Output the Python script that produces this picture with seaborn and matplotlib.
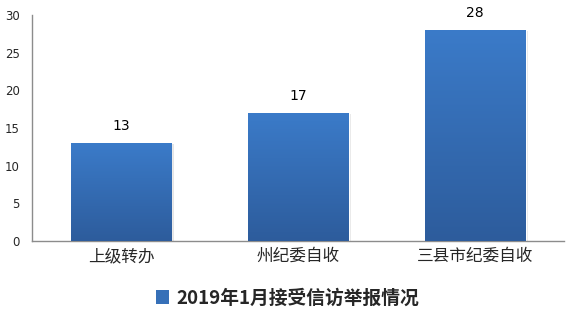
import numpy as np
import pandas as pd
import matplotlib
matplotlib.use("Agg")
import matplotlib.pyplot as plt
import seaborn as sns
from matplotlib.colors import LinearSegmentedColormap
from matplotlib.patches import Patch

categories = ["上级转办", "州纪委自收", "三县市纪委自收"]
values = [13, 17, 28]
yticks = [0, 5, 10, 15, 20, 25, 30]
legend_label = "2019年1月接受信访举报情况"

sns.set_theme(style="white")
plt.rcParams['font.family'] = ['Noto Sans CJK SC', 'DejaVu Sans']

fig = plt.figure(figsize=(5.78, 3.24), dpi=100)
ax = fig.add_axes([0.0562, 0.256, 0.919, 0.698])

df = pd.DataFrame({"cat": categories, "val": values})
sns.barplot(data=df, x="cat", y="val", color="#3A78C3", width=0.57, ax=ax, zorder=2)

cmap = LinearSegmentedColormap.from_list("g", ["#2D5C9C", "#3B7BC9"])
grad = np.linspace(0, 1, 256).reshape(-1, 1)
for p in ax.patches:
    x0, y0 = p.get_x(), p.get_y()
    w, h = p.get_width(), p.get_height()
    ax.add_patch(plt.Rectangle((x0 + 0.012, y0), w, h - 0.15, color="#000000", alpha=0.10, zorder=1, lw=0))
    im = ax.imshow(grad, extent=[x0, x0 + w, y0, y0 + h], origin="lower", cmap=cmap,
                   aspect="auto", zorder=3)
    im.set_clip_path(p)
    p.set_facecolor("none")

for i, v in enumerate(values):
    ax.text(i, v + 1.3, str(v), ha="center", va="bottom", fontsize=10, color="black",
            family=['DejaVu Sans'])

ax.set_xlim(-0.5, len(categories) - 0.5)
ax.set_ylim(0, 30)
ax.set_yticks(yticks)
ax.set_yticklabels([str(t) for t in yticks], fontsize=8.5, family=['DejaVu Sans'])
ax.set_xlabel("")
ax.set_ylabel("")
ax.tick_params(axis="x", labelsize=12, pad=5, length=0)
ax.tick_params(axis="y", pad=9, length=0)
for s in ["top", "right"]:
    ax.spines[s].set_visible(False)
for s in ["left", "bottom"]:
    ax.spines[s].set_color("#8C8C8C")
    ax.spines[s].set_linewidth(1.0)

handle = Patch(facecolor="#3670B8", edgecolor="none")
leg = fig.legend([handle], [legend_label], loc="center", bbox_to_anchor=(0.497, 0.08),
                 frameon=False, handlelength=0.7, handleheight=0.7, handletextpad=0.4,
                 prop={"family": ['Noto Sans CJK SC', 'DejaVu Sans'], "weight": "bold", "size": 13.5})

fig.savefig("out.png", dpi=100)
